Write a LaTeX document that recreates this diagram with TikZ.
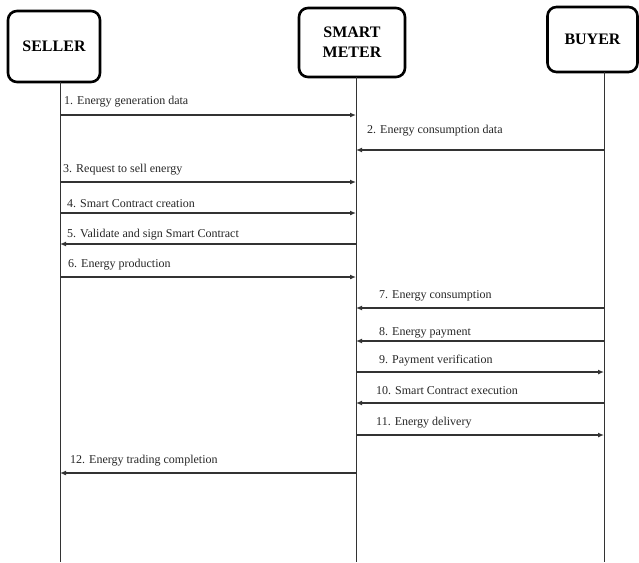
\documentclass[tikz,border=0pt]{standalone}
\usepackage{fontspec}
\setmainfont{Liberation Serif}
\usetikzlibrary{arrows.meta}
\begin{document}
\begin{tikzpicture}[x=1pt,y=-1pt,
  party/.style={draw=black,line width=2.6pt,rounded corners=9pt,fill=white,
    inner sep=0pt,align=center,font=\fontsize{16}{20}\selectfont\bfseries},
  lifeline/.style={draw=black!80,line width=0.9pt},
  msg/.style={draw=black!80,line width=1.3pt,-{Latex[length=6pt,width=5pt]}},
  lbl/.style={anchor=base west,inner sep=0pt,font=\fontsize{12}{14}\selectfont,text=black!85}]
\useasboundingbox (0,0) rectangle (639,562);

% participants
\node[party,minimum width=92pt,minimum height=71pt] (seller) at (54,46.5) {SELLER};
\node[party,minimum width=106pt,minimum height=69pt] (meter) at (352,42.5) {SMART\\METER};
\node[party,minimum width=90pt,minimum height=65pt] (buyer) at (592.5,39.5) {BUYER};

% lifeline ends
\coordinate (sellerTop) at (60,82);
\coordinate (meterTop) at (356,77);
\coordinate (buyerTop) at (604,72);
\coordinate (sellerEnd) at (60,562);
\coordinate (meterEnd) at (356,562);
\coordinate (buyerEnd) at (604,562);
\draw[lifeline] (sellerTop) -- (sellerEnd);
\draw[lifeline] (meterTop) -- (meterEnd);
\draw[lifeline] (buyerTop) -- (buyerEnd);

% message rows on each lifeline
\foreach \i/\y in {1/115,2/150,3/182,4/213,5/244,6/277,7/308,8/341,9/372,10/403,11/435,12/473}{
  \coordinate (s\i) at (60,\y);
  \coordinate (m\i) at (356,\y);
  \coordinate (b\i) at (604,\y);
}

% messages
\draw[msg] (s1) -- (m1);
\draw[msg] (b2) -- (m2);
\draw[msg] (s3) -- (m3);
\draw[msg] (s4) -- (m4);
\draw[msg] (m5) -- (s5);
\draw[msg] (s6) -- (m6);
\draw[msg] (b7) -- (m7);
\draw[msg] (b8) -- (m8);
\draw[msg] (m9) -- (b9);
\draw[msg] (b10) -- (m10);
\draw[msg] (m11) -- (b11);
\draw[msg] (m12) -- (s12);

% message labels
\node[lbl] (t1) at (64,104) {1. Energy generation data};
\node[lbl] (t2) at (367,133) {2. Energy consumption data};
\node[lbl] (t3) at (63,172) {3. Request to sell energy};
\node[lbl] (t4) at (67,207) {4. Smart Contract creation};
\node[lbl] (t5) at (67,237) {5. Validate and sign Smart Contract};
\node[lbl] (t6) at (68,267) {6. Energy production};
\node[lbl] (t7) at (379,298) {7. Energy consumption};
\node[lbl] (t8) at (379,335) {8. Energy payment};
\node[lbl] (t9) at (379,363) {9. Payment verification};
\node[lbl] (t10) at (376,394) {10. Smart Contract execution};
\node[lbl] (t11) at (376,425) {11. Energy delivery};
\node[lbl] (t12) at (70,463) {12. Energy trading completion};
\end{tikzpicture}
\end{document}
